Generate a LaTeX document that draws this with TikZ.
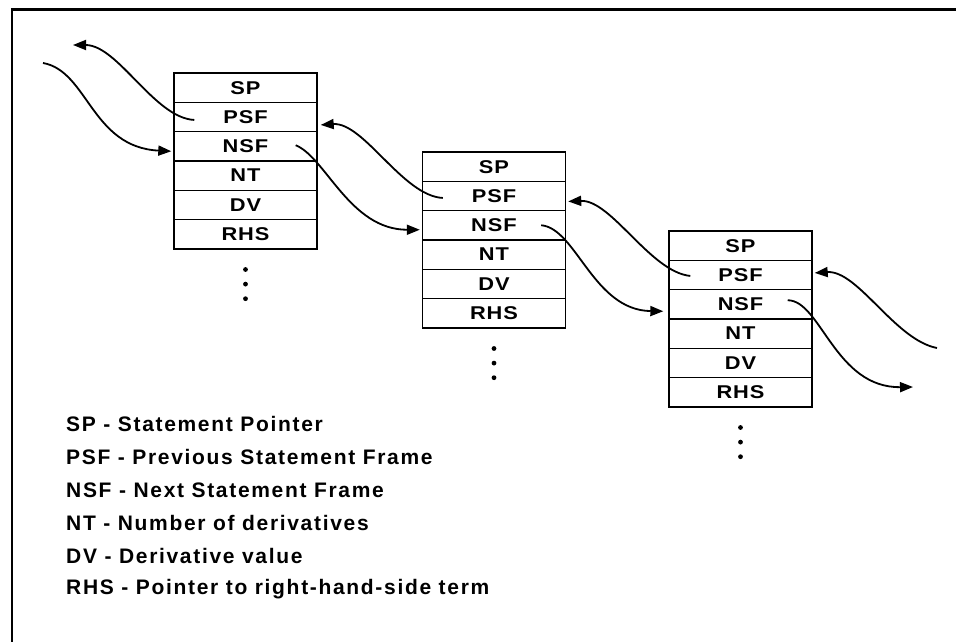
\documentclass[tikz,border=0pt]{standalone}
\usepackage{fontspec}
\setmainfont{Liberation Sans}
\newfontfamily\cellfont{Liberation Sans}[FakeStretch=1.18, LetterSpace=5]
\newfontfamily\keyfont{Liberation Sans}[LetterSpace=8]
\usetikzlibrary{arrows.meta,calc}
\begin{document}
\begin{tikzpicture}[x=1pt,y=-1pt,
  cell/.style={draw, line width=1.4pt, minimum width=143pt, minimum height=29.3pt,
    inner sep=0pt, font=\cellfont\fontsize{18.5}{21}\selectfont\bfseries},
  link/.style={line width=1.8pt, -{Triangle[length=13pt,width=10pt]}},
  legend/.style={anchor=west, inner sep=0pt, font=\keyfont\fontsize{21}{23}\selectfont\bfseries}]
\useasboundingbox (0,0) rectangle (956,642);

% frame edges (top and left)
\draw[line width=3pt] (10.9,10) -- (956,10);
\draw[line width=2.2pt] (12,642) -- (12,8.5);

% three statement frames
\foreach \s/\cx/\ty in {1/245.5/73, 2/494/152, 3/740.5/231} {
  \foreach \n/\t [count=\i from 0] in {sp/SP,psf/PSF,nsf/NSF,nt/NT,dv/DV,rhs/RHS}
    \node[cell] (s\s\n) at (\cx, {\ty+14.65+29.3*\i}) {\t};
}

% continuation dots below each frame
\foreach \r in {s1rhs,s2rhs,s3rhs}
  \foreach \k in {0,1,2}
    \fill ($(\r.south)+(0,{20+14.6*\k})$) circle (2.4pt);

% free ends of the chain
\coordinate (inL)  at (43,63);
\coordinate (outL) at (73,45);
\coordinate (inR)  at (937,348);
\coordinate (outR) at (913,387);

% next-frame links
\draw[link] (inL) .. controls +(45,8) and +(-80,-4) .. ($(s1nsf.west)+(-2,5)$);
\draw[link] ($(s1nsf.east)+(-22,-1)$) .. controls +(30,12) and +(-70,0) .. ($(s2nsf.west)+(-2,4.5)$);
\draw[link] ($(s2nsf.east)+(-25,0)$) .. controls +(35,3) and +(-70,-1) .. ($(s3nsf.west)+(-5,7)$);
\draw[link] ($(s3nsf.east)+(-25,-4)$) .. controls +(33,0) and +(-78,1) .. (outR);

% previous-frame links
\draw[link] ($(s1psf.west)+(21,3)$) .. controls +(-40,-2) and +(45,0) .. (outL);
\draw[link] ($(s2psf.west)+(21,2)$) .. controls +(-40,-2) and +(43,-3) .. ($(s1psf.east)+(3,8)$);
\draw[link] ($(s3psf.west)+(22,1)$) .. controls +(-40,-4) and +(43,-2) .. ($(s2psf.east)+(2,5.5)$);
\draw[link] (inR) .. controls +(-42,-8) and +(43,-3) .. ($(s3psf.east)+(2,-2)$);

% key
\node[legend] (kSP)  at (66,424) {SP - Statement Pointer};
\node[legend] (kPSF) at (66,457) {PSF - Previous Statement Frame};
\node[legend] (kNSF) at (66,490) {NSF - Next Statement Frame};
\node[legend] (kNT)  at (66,523) {NT - Number of derivatives};
\node[legend] (kDV)  at (66,556) {DV - Derivative value};
\node[legend] (kRHS) at (66,589) {RHS - Pointer to right-hand-side term};
\end{tikzpicture}
\end{document}
